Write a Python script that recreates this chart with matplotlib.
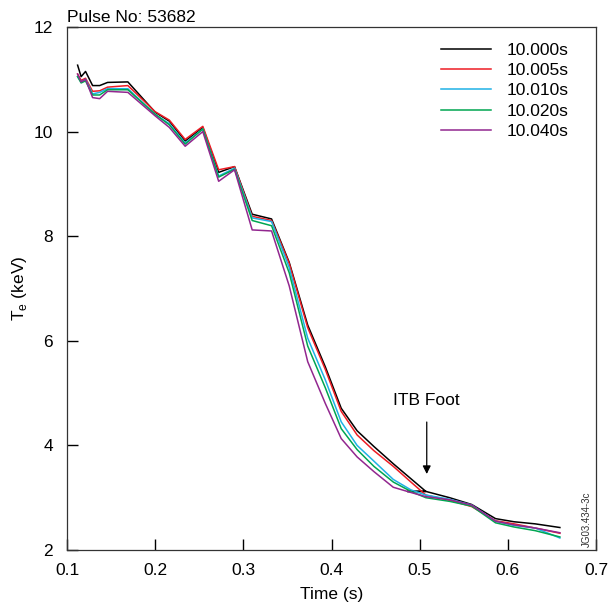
import matplotlib.pyplot as plt

plt.rcParams['font.family'] = ['Liberation Sans', 'DejaVu Sans']

# 横軸 (Time)
time = [0.112, 0.116, 0.121, 0.129, 0.137, 0.146, 0.169, 0.2, 0.216, 0.234,
        0.254, 0.272, 0.29, 0.31, 0.332, 0.352, 0.373, 0.393, 0.411, 0.429,
        0.448, 0.47, 0.49, 0.507, 0.534, 0.559, 0.586, 0.607, 0.631, 0.659]
# 10.000s の曲線は 0.49 付近で一度折り返している
time_black = [0.112, 0.116, 0.121, 0.129, 0.137, 0.146, 0.169, 0.2, 0.216, 0.234,
              0.254, 0.272, 0.29, 0.31, 0.332, 0.352, 0.373, 0.393, 0.411, 0.429,
              0.448, 0.47, 0.507, 0.486, 0.507, 0.534, 0.559, 0.586, 0.607, 0.631,
              0.659]

te_10000 = [11.27, 11.05, 11.15, 10.88, 10.88, 10.94, 10.95, 10.37, 10.2, 9.82,
            10.08, 9.22, 9.33, 8.42, 8.33, 7.5, 6.3, 5.5, 4.71, 4.28,
            3.98, 3.65, 3.12, 3.12, 3.12, 3.0, 2.87, 2.6, 2.54, 2.5,
            2.43]
te_10005 = [11.1, 10.98, 11.02, 10.77, 10.78, 10.85, 10.88, 10.38, 10.22, 9.85,
            10.1, 9.27, 9.33, 8.38, 8.3, 7.48, 6.25, 5.45, 4.65, 4.2,
            3.9, 3.6, 3.3, 3.05, 2.95, 2.83, 2.56, 2.5, 2.42, 2.32]
te_10010 = [11.05, 10.95, 11.0, 10.72, 10.75, 10.82, 10.82, 10.33, 10.15, 9.78,
            10.05, 9.15, 9.3, 8.35, 8.28, 7.4, 6.05, 5.25, 4.45, 4.0,
            3.7, 3.35, 3.15, 3.05, 2.97, 2.86, 2.55, 2.47, 2.42, 2.23]
te_10020 = [11.05, 10.93, 10.97, 10.7, 10.7, 10.8, 10.8, 10.33, 10.13, 9.76,
            10.05, 9.13, 9.28, 8.3, 8.2, 7.3, 5.9, 5.1, 4.32, 3.92,
            3.6, 3.3, 3.12, 3.0, 2.93, 2.84, 2.52, 2.44, 2.37, 2.25]
te_10040 = [11.1, 10.95, 11.0, 10.65, 10.63, 10.77, 10.75, 10.3, 10.08, 9.72,
            10.0, 9.05, 9.27, 8.12, 8.1, 7.05, 5.6, 4.8, 4.13, 3.78,
            3.5, 3.2, 3.1, 3.02, 2.96, 2.86, 2.55, 2.48, 2.42, 2.33]

labels = ['10.000s', '10.005s', '10.010s', '10.020s', '10.040s']
colors = ['#000000', '#ed1c24', '#1fb1e6', '#00a651', '#92278f']
xs = [time_black, time, time, time, time]
series = [te_10000, te_10005, te_10010, te_10020, te_10040]

fig = plt.figure(figsize=(6.11, 6.12), dpi=100)
ax = fig.add_axes([0.1097, 0.1013, 0.8658, 0.8546])

for x, y, c, lab in zip(xs, series, colors, labels):
    ax.plot(x, y, color=c, lw=1.1, label=lab)

ax.set_xlim(0.1, 0.7)
ax.set_ylim(2, 12)
ax.set_xticks([0.1, 0.2, 0.3, 0.4, 0.5, 0.6, 0.7])
ax.set_yticks([2, 4, 6, 8, 10, 12])
ax.tick_params(direction='in', length=8, width=1, labelsize=12.5)
ax.tick_params(axis='y', pad=10)
ax.tick_params(axis='x', pad=9.5)
for s in ax.spines.values():
    s.set_linewidth(0.9)
    s.set_color('#333333')

ax.set_xlabel('Time (s)', fontsize=12.5, labelpad=6)
ax.set_ylabel(r'T$_\mathregular{e}$ (keV)', fontsize=12.5, labelpad=3.5)
ax.text(0.0, 1.003, 'Pulse No: 53682', transform=ax.transAxes, fontsize=12.5,
        ha='left', va='bottom')

ax.annotate('', xy=(0.508, 3.4), xytext=(0.508, 4.5),
            arrowprops=dict(arrowstyle='-|>', color='black', lw=0.9,
                            mutation_scale=12))
ax.text(0.508, 4.72, 'ITB Foot', fontsize=12.5, ha='center', va='bottom')

ax.text(0.993, 0.005, 'JG03.434-3c', transform=ax.transAxes, rotation=90,
        fontsize=7, ha='right', va='bottom', color='#333333')

ax.legend(loc='upper right', bbox_to_anchor=(0.978, 1.0), frameon=False,
          fontsize=12.5, handlelength=2.9, handletextpad=0.9,
          labelspacing=0.3, borderaxespad=0.5)

plt.savefig('out.png')
